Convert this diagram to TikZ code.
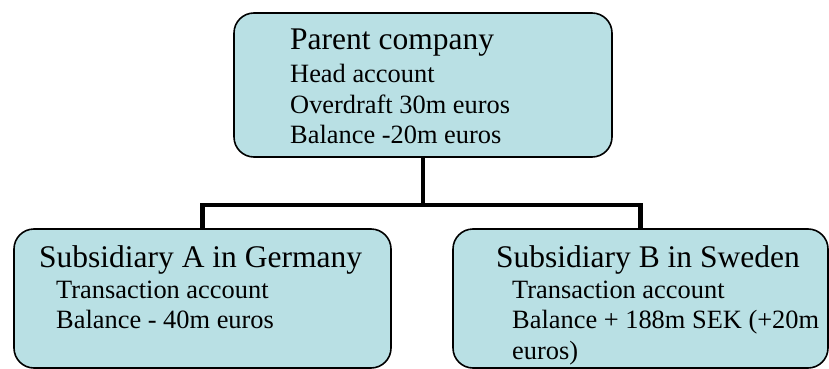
\documentclass[tikz,border=0pt]{standalone}
\usepackage{fontspec}
\setmainfont{Liberation Serif}
\definecolor{boxfill}{RGB}{185,224,228}
\begin{document}
\begin{tikzpicture}[x=1pt,y=-1pt,
  box/.style={draw=black, line width=1.6pt, fill=boxfill, rounded corners=20pt, inner sep=0pt, outer sep=0pt},
  head/.style={anchor=base west, inner sep=0pt, font=\rmfamily\fontsize{31.5}{32}\selectfont},
  body/.style={anchor=base west, inner sep=0pt, font=\rmfamily\fontsize{26.4}{30}\selectfont},
  conn/.style={draw=black, line width=4.8pt}]
\useasboundingbox (0,0) rectangle (829,369);
\node[box, minimum width=378pt, minimum height=144pt] (top) at (423,85) {};
\node[box, minimum width=377pt, minimum height=139pt] (left) at (202.5,298.5) {};
\node[box, minimum width=375pt, minimum height=139pt] (right) at (640.5,298.5) {};
\coordinate (j) at (423,205);
\draw[conn] (top.south) -- (j);
\draw[conn] (left.north) |- (j) -| (right.north);
\node[head] (t1) at (290,50) {Parent company};
\node[body] (t2) at (290,82) {Head account};
\node[body] (t3) at (290,113) {Overdraft 30m euros};
\node[body] (t4) at (290,143) {Balance -20m euros};
\node[head] (a1) at (39,267) {Subsidiary A in Germany};
\node[body] (a2) at (56,298) {Transaction account};
\node[body] (a3) at (56,328) {Balance - 40m euros};
\node[head] (b1) at (496,267) {Subsidiary B in Sweden};
\node[body] (b2) at (512,298) {Transaction account};
\node[body] (b3) at (512,328) {Balance + 188m SEK (+20m};
\node[body] (b4) at (512,359) {euros)};
\end{tikzpicture}
\end{document}
